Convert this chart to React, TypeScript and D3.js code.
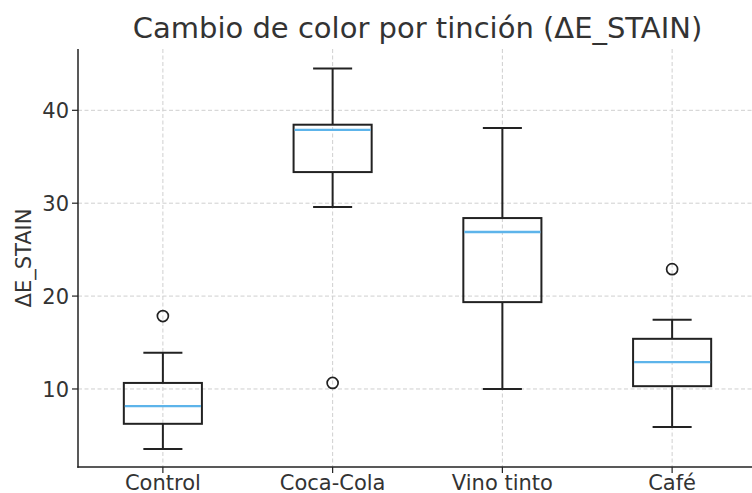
import React from "react";
import * as d3 from "d3";

const categories = ["Control", "Coca-Cola", "Vino tinto", "Café"];
const whiskerLow = [3.55, 29.6, 10.0, 5.9];
const q1 = [6.25, 33.35, 19.35, 10.3];
const medians = [8.15, 37.9, 26.9, 12.9];
const q3 = [10.65, 38.45, 28.4, 15.4];
const whiskerHigh = [13.9, 44.5, 38.1, 17.45];
const outliers: number[][] = [[17.85], [10.65], [], [22.9]];
const yTicks = [10, 20, 30, 40];

const W = 752;
const H = 493;
const left = 78;
const right = 757;
const top = 49;
const bottom = 467;

export default function App() {
  const x = d3.scaleLinear().domain([0.5, 4.5]).range([left, right]);
  const y = d3.scaleLinear().domain([1.6, 46.6]).range([bottom, top]);
  const halfBox = (x(1.46) - x(1)) / 2;
  const halfCap = halfBox / 2;
  const font = "'DejaVu Sans', sans-serif";
  const grid = "#cfcfcf";
  const ink = "#222";

  return (
    <svg width={W} height={H} style={{ position: "absolute", left: 0, top: 0 }} fontFamily={font}>
      <rect width={W} height={H} fill="#fff" />
      {yTicks.map((t) => (
        <line key={"gy" + t} x1={left} x2={right} y1={y(t)} y2={y(t)} stroke={grid} strokeWidth={1} strokeDasharray="4,2.5" />
      ))}
      {categories.map((c, i) => (
        <line key={"gx" + c} x1={x(i + 1)} x2={x(i + 1)} y1={top} y2={bottom} stroke={grid} strokeWidth={1} strokeDasharray="4,2.5" />
      ))}
      {categories.map((c, i) => {
        const cx = x(i + 1);
        return (
          <g key={"b" + c} stroke={ink} strokeWidth={2} fill="none">
            <line x1={cx} x2={cx} y1={y(q3[i])} y2={y(whiskerHigh[i])} />
            <line x1={cx} x2={cx} y1={y(q1[i])} y2={y(whiskerLow[i])} />
            <line x1={cx - halfCap} x2={cx + halfCap} y1={y(whiskerHigh[i])} y2={y(whiskerHigh[i])} />
            <line x1={cx - halfCap} x2={cx + halfCap} y1={y(whiskerLow[i])} y2={y(whiskerLow[i])} />
            <rect x={cx - halfBox} y={y(q3[i])} width={halfBox * 2} height={y(q1[i]) - y(q3[i])} />
            <line x1={cx - halfBox + 1} x2={cx + halfBox - 1} y1={y(medians[i])} y2={y(medians[i])} stroke="#5db4ea" strokeWidth={2.3} />
            {outliers[i].map((o, k) => (
              <circle key={k} cx={cx} cy={y(o)} r={5.5} strokeWidth={1.7} />
            ))}
          </g>
        );
      })}
      <line x1={left} x2={left} y1={top} y2={bottom + 0.75} stroke={ink} strokeWidth={1.5} />
      <line x1={left - 0.75} x2={right} y1={bottom} y2={bottom} stroke={ink} strokeWidth={1.5} />
      {yTicks.map((t) => (
        <g key={"yt" + t}>
          <line x1={left - 6} x2={left} y1={y(t)} y2={y(t)} stroke={ink} strokeWidth={1.2} />
          <text x={left - 9} y={y(t)} dy="0.36em" textAnchor="end" fontSize={21} fill="#333">
            {t}
          </text>
        </g>
      ))}
      {categories.map((c, i) => (
        <g key={"xt" + c}>
          <line x1={x(i + 1)} x2={x(i + 1)} y1={bottom} y2={bottom + 6} stroke={ink} strokeWidth={1.2} />
          <text x={x(i + 1)} y={490} textAnchor="middle" fontSize={21} fill="#333">
            {c}
          </text>
        </g>
      ))}
      <text transform={`translate(31, ${(top + bottom) / 2}) rotate(-90)`} textAnchor="middle" fontSize={21} fill="#333">
        ΔE_STAIN
      </text>
      <text x={(left + right) / 2} y={38} textAnchor="middle" fontSize={29} fill="#333">
        Cambio de color por tinción (ΔE_STAIN)
      </text>
    </svg>
  );
}
